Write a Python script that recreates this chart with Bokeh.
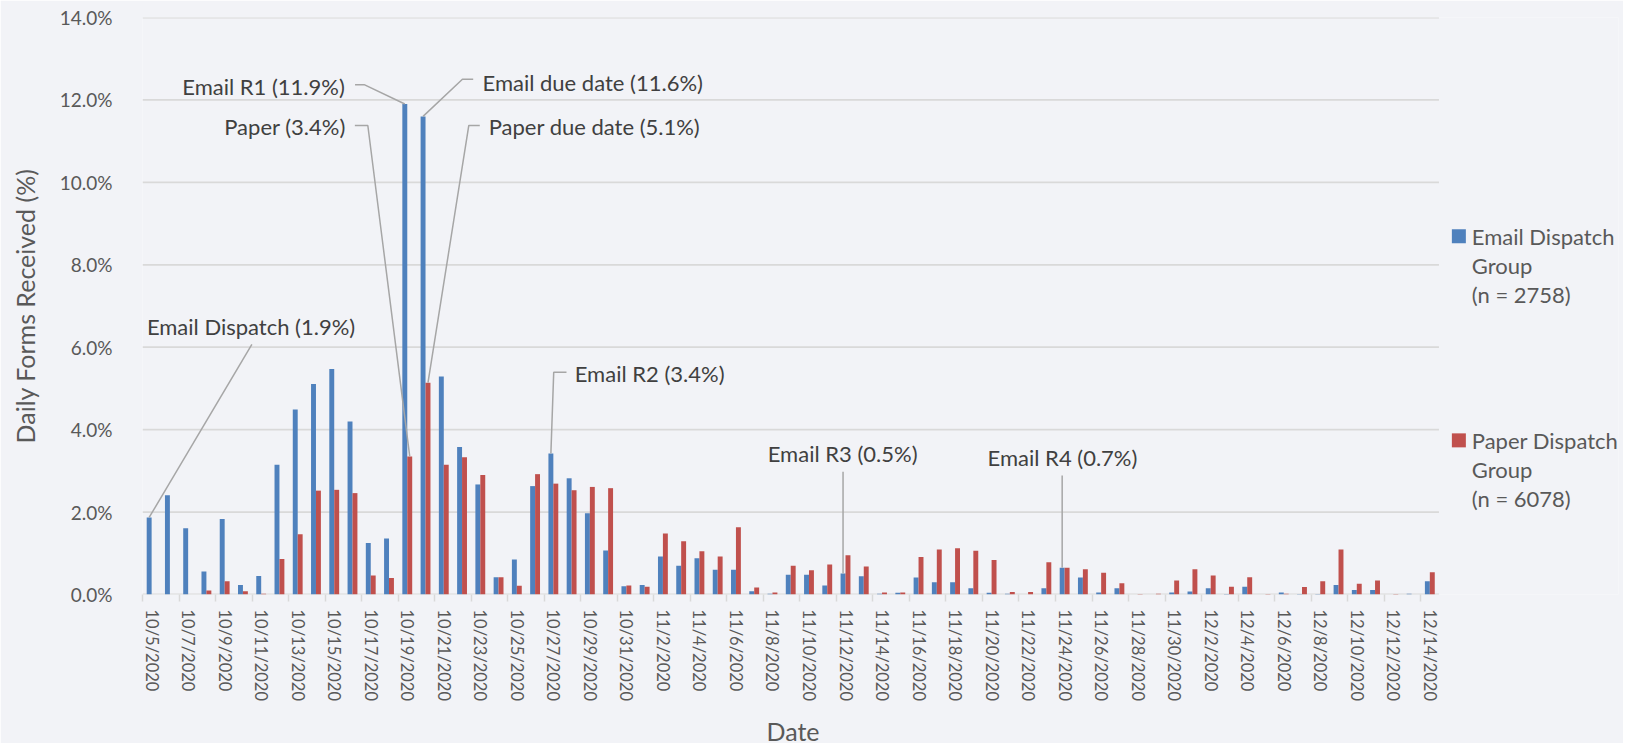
from bokeh.plotting import figure
from bokeh.models import FixedTicker, PrintfTickFormatter, Title
from bokeh.core.properties import value
from bokeh.embed import file_html
from bokeh.resources import INLINE

# ---------------- data ----------------
dates = [
    "10/5/2020", "10/6/2020", "10/7/2020", "10/8/2020", "10/9/2020", "10/10/2020",
    "10/11/2020", "10/12/2020", "10/13/2020", "10/14/2020", "10/15/2020", "10/16/2020",
    "10/17/2020", "10/18/2020", "10/19/2020", "10/20/2020", "10/21/2020", "10/22/2020",
    "10/23/2020", "10/24/2020", "10/25/2020", "10/26/2020", "10/27/2020", "10/28/2020",
    "10/29/2020", "10/30/2020", "10/31/2020",
    "11/1/2020", "11/2/2020", "11/3/2020", "11/4/2020", "11/5/2020", "11/6/2020",
    "11/7/2020", "11/8/2020", "11/9/2020", "11/10/2020", "11/11/2020", "11/12/2020",
    "11/13/2020", "11/14/2020", "11/15/2020", "11/16/2020", "11/17/2020", "11/18/2020",
    "11/19/2020", "11/20/2020", "11/21/2020", "11/22/2020", "11/23/2020", "11/24/2020",
    "11/25/2020", "11/26/2020", "11/27/2020", "11/28/2020", "11/29/2020", "11/30/2020",
    "12/1/2020", "12/2/2020", "12/3/2020", "12/4/2020", "12/5/2020", "12/6/2020",
    "12/7/2020", "12/8/2020", "12/9/2020", "12/10/2020", "12/11/2020", "12/12/2020",
    "12/13/2020", "12/14/2020",
]

email_pct = [
    1.87, 2.41, 1.61, 0.56, 1.83, 0.23, 0.45, 3.15, 4.49, 5.11, 5.47, 4.20, 1.25, 1.36,
    11.9, 11.6, 5.29, 3.58, 2.67, 0.42, 0.85, 2.63, 3.42, 2.82, 1.97, 1.07, 0.20,
    0.23, 0.92, 0.70, 0.88, 0.60, 0.60, 0.08, 0.02, 0.48, 0.48, 0.22, 0.51, 0.44,
    0.02, 0.04, 0.41, 0.30, 0.30, 0.15, 0.04, 0.02, 0.00, 0.15, 0.65, 0.41, 0.05,
    0.15, 0.00, 0.00, 0.05, 0.07, 0.15, 0.01, 0.19, 0.00, 0.05, 0.01, 0.01, 0.23,
    0.11, 0.11, 0.00, 0.02, 0.32,
]

paper_pct = [
    0.00, 0.00, 0.00, 0.10, 0.32, 0.08, 0.02, 0.86, 1.46, 2.52, 2.54, 2.46, 0.46, 0.40,
    3.35, 5.14, 3.15, 3.33, 2.90, 0.42, 0.21, 2.92, 2.69, 2.53, 2.61, 2.58, 0.22,
    0.19, 1.48, 1.29, 1.05, 0.92, 1.63, 0.17, 0.05, 0.70, 0.59, 0.73, 0.95, 0.68,
    0.05, 0.05, 0.91, 1.09, 1.12, 1.06, 0.84, 0.06, 0.06, 0.78, 0.65, 0.61, 0.53,
    0.27, 0.01, 0.02, 0.34, 0.61, 0.46, 0.19, 0.42, 0.01, 0.02, 0.18, 0.32, 1.09,
    0.26, 0.34, 0.01, 0.00, 0.54,
]

series_labels = ["Email Dispatch\nGroup\n(n = 2758)", "Paper Dispatch\nGroup\n(n = 6078)"]
y_ticks = [0, 2, 4, 6, 8, 10, 12, 14]
y_title = "Daily Forms Received (%)"
x_title = "Date"

# annotations: text, category index, series, text x, text y, align, leader path (before bar top)
annotations = [
    ("Email R1 (11.9%)", 14, "email", 10.58, 12.33, "right", [(11.14, 12.37), (11.64, 12.37)]),
    ("Paper (3.4%)", 14, "paper", 10.63, 11.36, "right", [(11.13, 11.38), (11.84, 11.38)]),
    ("Email due date (11.6%)", 15, "email", 18.12, 12.43, "left", [(17.61, 12.50), (17.02, 12.50)]),
    ("Paper due date (5.1%)", 15, "paper", 18.46, 11.36, "left", [(17.97, 11.38), (17.37, 11.38)]),
    ("Email Dispatch (1.9%)", 0, "email", -0.26, 6.50, "left", [(5.49, 6.07)]),
    ("Email R2 (3.4%)", 22, "email", 23.17, 5.36, "left", [(22.72, 5.39), (22.02, 5.39)]),
    ("Email R3 (0.5%)", 38, "email", 33.74, 3.42, "left", [(None, 2.98)]),
    ("Email R4 (0.7%)", 50, "email", 45.78, 3.33, "left", [(None, 2.89)]),
]

# ---------------- style ----------------
BG = "#f2f3f7"
BLUE = "#4f81bd"
RED = "#c0504d"
GRID = "#d9d9d9"
LEADER = "#a6a6a6"
LABEL_C = "#595959"
ANNO_C = "#404040"
FONT = "Lato"

PX_PER_CAT = 18.26
FRAME_W = 1476
FRAME_H = 577
BAR_W = 0.27
OFF = 0.135

n = len(dates)
x_start = -0.5
x_end = x_start + FRAME_W / PX_PER_CAT

p = figure(
    frame_width=FRAME_W, frame_height=FRAME_H,
    x_range=(x_start, x_end), y_range=(0, 14),
    output_backend="svg", toolbar_location=None,
    min_border_left=142, min_border_right=5, min_border_top=17, min_border_bottom=149,
    background_fill_color=BG, border_fill_color=BG, outline_line_color=None,
)

p.xgrid.visible = False
p.ygrid.visible = False

# gridlines limited to the category area
p.segment(x0=[x_start] * len(y_ticks), x1=[x_start + n] * len(y_ticks),
          y0=y_ticks, y1=y_ticks, line_color=GRID, line_width=1.8)

xs = list(range(n))
p.vbar(x=[x - OFF for x in xs], top=email_pct, width=BAR_W, bottom=0,
       fill_color=BLUE, line_color=None)
p.vbar(x=[x + OFF for x in xs], top=paper_pct, width=BAR_W, bottom=0,
       fill_color=RED, line_color=None)

# x axis
xa = p.xaxis[0]
xa.ticker = FixedTicker(ticks=[i for i in range(0, n, 2)],
                        minor_ticks=[i - 0.5 for i in range(0, n, 2)])
xa.major_label_overrides = {i: dates[i] for i in range(0, n, 2)}
xa.major_label_orientation = "vertical"
xa.axis_line_color = None
xa.major_tick_line_color = None
xa.major_tick_out = 0
xa.major_tick_in = 0
xa.minor_tick_line_color = GRID
xa.minor_tick_line_width = 1.5
xa.minor_tick_out = 7
xa.minor_tick_in = 0
xa.major_label_standoff = 8
xa.major_label_text_font = FONT
xa.major_label_text_font_size = "16.5px"
xa.major_label_text_color = LABEL_C

# x axis title, centred under the category area (the frame also holds the legend)
p.add_layout(Title(text=x_title, align="left", offset=624, standoff=20,
                   text_font=FONT, text_font_style="normal", text_font_size="25px",
                   text_color=LABEL_C), "below")

# y axis
ya = p.yaxis[0]
ya.ticker = FixedTicker(ticks=y_ticks)
ya.formatter = PrintfTickFormatter(format="%.1f%%")
ya.axis_line_color = None
ya.major_tick_line_color = None
ya.minor_tick_line_color = None
ya.major_tick_out = 0
ya.major_tick_in = 0
ya.major_label_standoff = 30
ya.major_label_text_font = FONT
ya.major_label_text_font_size = "19px"
ya.major_label_text_color = LABEL_C
ya.axis_label = y_title
ya.axis_label_text_font = FONT
ya.axis_label_text_font_style = "normal"
ya.axis_label_text_font_size = "25px"
ya.axis_label_text_color = LABEL_C
ya.axis_label_standoff = 17

# annotations
series_vals = {"email": email_pct, "paper": paper_pct}
series_off = {"email": -OFF, "paper": OFF}
lx, ly = [], []
for text, idx, ser, tx, ty, align, path in annotations:
    bx = idx + series_off[ser]
    by = series_vals[ser][idx]
    pts = [((bx if px is None else px), py) for px, py in path] + [(bx, by)]
    lx.append([pt[0] for pt in pts])
    ly.append([pt[1] for pt in pts])
    p.text(x=[tx], y=[ty], text=[text], text_align=align, text_baseline="middle",
           text_font=value(FONT), text_font_size="22px", text_color=ANNO_C)
p.multi_line(xs=lx, ys=ly, line_color=LEADER, line_width=1.5)

# legend (drawn in the right part of the frame)
legend_x = x_start + n + 1.09
legend_tx = x_start + n + 1.80
legend_y = [8.69, 3.74]
line_step = 29 / (FRAME_H / 14)
for lab, col, ly0 in zip(series_labels, [BLUE, RED], legend_y):
    p.scatter(x=[legend_x], y=[ly0], marker="square", size=14, fill_color=col, line_color=None)
    lines = lab.split("\n")
    p.text(x=[legend_tx] * len(lines), y=[ly0 - k * line_step for k in range(len(lines))],
           text=lines, text_align="left", text_baseline="middle",
           text_font=value(FONT), text_font_size="22px", text_color=LABEL_C)

open("out.html", "w").write(file_html(p, INLINE))
